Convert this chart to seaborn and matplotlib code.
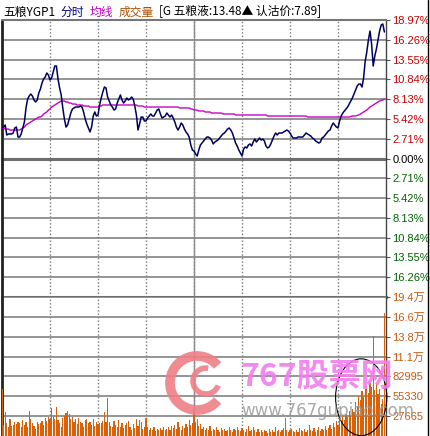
import numpy as np
import pandas as pd
import seaborn as sns
import matplotlib.pyplot as plt
from matplotlib.patches import Ellipse, Arc

# intraday data, one value per trading minute (240 minutes)
minutes = list(range(240))

price_pct = [
    4.18, 4.31, 4.59, 3.22, 3.36, 3.36, 3.36, 3.49, 4.18, 4.31,
    2.94, 2.94, 3.36, 4.18, 5.00, 6.92, 8.15, 8.56, 8.83, 8.56,
    8.01, 7.74, 8.01, 8.97, 9.52, 10.34, 10.89, 11.16, 11.71, 11.44,
    10.75, 11.03, 11.85, 12.67, 12.67, 10.89, 9.66, 8.70, 6.92, 5.41,
    4.31, 4.59, 5.41, 6.23, 6.78, 6.92, 7.05, 7.05, 7.05, 7.19,
    7.05, 6.37, 5.41, 4.73, 4.18, 3.63, 4.31, 5.82, 6.37, 5.82,
    5.96, 7.33, 8.29, 9.11, 9.79, 9.66, 8.42, 7.88, 7.33, 7.05,
    6.64, 6.78, 7.60, 8.15, 8.70, 8.01, 7.60, 7.88, 8.29, 8.01,
    8.15, 8.42, 8.15, 7.19, 5.96, 3.90, 4.73, 5.68, 5.68, 5.14,
    5.14, 5.55, 5.82, 6.10, 5.82, 5.82, 6.23, 6.64, 6.78, 6.10,
    5.55, 5.68, 5.82, 6.23, 5.96, 5.68, 5.96, 5.55, 5.00, 4.31,
    3.90, 4.31, 4.86, 4.59, 4.04, 3.63, 3.36, 2.94, 1.85, 1.16,
    1.03, 0.62, 0.34, 1.16, 1.85, 2.12, 2.40, 2.67, 2.94, 2.94,
    2.81, 2.53, 1.99, 2.26, 2.40, 2.53, 2.81, 3.08, 3.36, 3.49,
    3.77, 4.04, 4.18, 3.90, 3.49, 2.81, 2.12, 1.71, 1.16, 0.75,
    0.34, 1.30, 1.58, 1.44, 1.85, 1.99, 1.71, 2.26, 2.67, 2.26,
    2.53, 2.81, 2.53, 2.67, 2.40, 1.71, 1.44, 1.58, 1.99, 2.53,
    3.08, 3.49, 3.22, 3.49, 3.49, 3.49, 3.63, 3.77, 3.90, 3.77,
    3.49, 3.08, 2.81, 2.81, 2.81, 2.94, 2.94, 2.94, 2.94, 3.22,
    3.49, 3.36, 3.22, 3.08, 2.81, 2.67, 2.40, 2.26, 2.12, 2.26,
    2.81, 2.94, 3.22, 3.49, 3.77, 3.90, 4.45, 4.86, 4.59, 4.31,
    4.18, 5.14, 5.82, 6.23, 6.51, 6.78, 7.05, 7.46, 7.88, 8.29,
    8.83, 9.38, 9.93, 10.20, 10.20, 9.79, 11.03, 13.35, 14.59, 16.23,
    17.46, 15.68, 12.67, 14.04, 15.00, 16.23, 17.46, 18.29, 18.42, 17.33,
]

avg_pct = [
    4.18, 4.18, 4.04, 4.04, 4.04, 3.90, 3.90, 3.90, 3.90, 3.90,
    3.90, 3.90, 4.04, 4.18, 4.31, 4.59, 4.73, 4.86, 5.00, 5.14,
    5.27, 5.41, 5.55, 5.68, 5.68, 5.82, 6.10, 6.23, 6.37, 6.64,
    6.78, 7.05, 7.19, 7.33, 7.46, 7.60, 7.74, 7.88, 7.88, 7.88,
    7.74, 7.74, 7.60, 7.60, 7.46, 7.46, 7.46, 7.33, 7.33, 7.33,
    7.33, 7.19, 7.19, 7.19, 7.19, 7.05, 7.05, 7.05, 7.05, 7.05,
    7.05, 7.19, 7.19, 7.33, 7.33, 7.33, 7.33, 7.33, 7.33, 7.33,
    7.33, 7.33, 7.33, 7.33, 7.33, 7.33, 7.33, 7.33, 7.33, 7.33,
    7.33, 7.33, 7.33, 7.33, 7.33, 7.19, 7.19, 7.19, 7.19, 7.05,
    7.05, 7.05, 7.05, 7.05, 7.05, 7.05, 7.05, 7.05, 7.05, 7.05,
    7.05, 7.05, 7.05, 7.05, 7.05, 7.05, 7.05, 7.05, 7.05, 7.05,
    7.05, 6.92, 6.92, 6.92, 6.92, 6.92, 6.92, 6.92, 6.78, 6.78,
    6.64, 6.64, 6.64, 6.51, 6.51, 6.51, 6.51, 6.37, 6.37, 6.37,
    6.37, 6.23, 6.23, 6.23, 6.23, 6.23, 6.23, 6.23, 6.10, 6.10,
    6.10, 6.10, 6.10, 6.10, 6.10, 6.10, 5.96, 5.96, 5.96, 5.96,
    5.96, 5.96, 5.96, 5.96, 5.96, 5.96, 5.96, 5.96, 5.96, 5.96,
    5.96, 5.96, 5.96, 5.96, 5.96, 5.96, 5.82, 5.82, 5.82, 5.82,
    5.82, 5.82, 5.82, 5.82, 5.82, 5.82, 5.82, 5.82, 5.82, 5.82,
    5.82, 5.82, 5.82, 5.82, 5.82, 5.82, 5.82, 5.82, 5.82, 5.82,
    5.82, 5.68, 5.68, 5.68, 5.68, 5.68, 5.68, 5.68, 5.68, 5.68,
    5.68, 5.68, 5.68, 5.68, 5.68, 5.68, 5.68, 5.68, 5.68, 5.68,
    5.68, 5.68, 5.68, 5.68, 5.68, 5.68, 5.68, 5.68, 5.75, 5.82,
    5.82, 5.82, 5.89, 5.96, 6.10, 6.23, 6.37, 6.51, 6.64, 6.85,
    7.05, 7.19, 7.33, 7.46, 7.60, 7.74, 7.88, 7.95, 8.01, 8.15,
]

volume = [
    65500, 15000, 34000, 18000, 12000, 24000, 14000, 16000, 20000, 17000,
    19000, 18000, 13000, 22000, 15000, 20000, 12000, 35000, 24000, 18000,
    14000, 10000, 20000, 17000, 18000, 21000, 16000, 25000, 21000, 26000,
    24000, 39000, 26000, 23000, 41000, 22000, 18000, 12000, 25000, 28000,
    32000, 35000, 30000, 24000, 27000, 19000, 23000, 17000, 25000, 20000,
    18000, 13000, 22000, 24000, 18000, 19000, 16000, 23000, 14000, 20000,
    17000, 18000, 18000, 21000, 34000, 20000, 53000, 19000, 14000, 12000,
    21000, 16000, 13000, 22000, 12000, 18000, 11000, 16000, 18000, 21000,
    12000, 9000, 17000, 11000, 23000, 14000, 22000, 19000, 10000, 13000,
    25000, 12000, 8000, 11000, 9000, 12000, 7000, 10000, 8000, 11000,
    9000, 13000, 8000, 10000, 12000, 9000, 14000, 11000, 16000, 10000,
    20000, 12000, 9000, 14000, 11000, 17000, 13000, 22000, 15000, 18000,
    37000, 20000, 23000, 14000, 17000, 10000, 13000, 8000, 11000, 9000,
    14000, 7000, 10000, 8000, 12000, 9000, 6000, 11000, 8000, 10000,
    7000, 9000, 13000, 8000, 6000, 10000, 8000, 12000, 9000, 7000,
    11000, 8000, 6000, 10000, 14000, 7000, 9000, 12000, 8000, 6000,
    10000, 5000, 8000, 6000, 9000, 7000, 4000, 10000, 6000, 8000,
    5000, 13000, 7000, 9000, 6000, 8000, 11000, 25000, 9000, 6000,
    8000, 10000, 7000, 5000, 9000, 6000, 11000, 8000, 7000, 10000,
    6000, 9000, 15000, 8000, 7000, 11000, 6000, 9000, 12000, 7000,
    10000, 8000, 14000, 9000, 11000, 16000, 10000, 18000, 13000, 21000,
    15000, 24000, 19000, 28000, 22000, 31000, 26000, 35000, 29000, 38000,
    33000, 48000, 42000, 56000, 50000, 62000, 55000, 66000, 70000, 60000,
    74000, 68000, 139000, 64000, 72000, 58000, 65000, 45000, 52000, 172000,
]

pct_ticks = [18.97, 16.26, 13.55, 10.84, 8.13, 5.42, 2.71, 0.0,
             -2.71, -5.42, -8.13, -10.84, -13.55, -16.26]
pct_labels = ["18.97%", "16.26%", "13.55%", "10.84%", "8.13%", "5.42%", "2.71%",
              "0.00%", "2.71%", "5.42%", "8.13%", "10.84%", "13.55%", "16.26%"]
vol_ticks = [27665, 55330, 82995, 110660, 138325, 165990, 193655]
vol_labels = ["27665", "55330", "82995", "11.1万", "13.8万", "16.6万", "19.4万"]

RED = "#c80000"
GREEN = "#006400"
ORANGE = "#c85a14"
GRID = "#8c8c8c"

sns.set_style("white")
plt.rcParams['font.family'] = ['Liberation Sans', 'Noto Sans CJK SC', 'DejaVu Sans']

df = pd.DataFrame({"minute": minutes, "price": price_pct, "avg": avg_pct, "vol": volume})

fig = plt.figure(figsize=(4.30, 4.36), dpi=100)
ax = fig.add_axes([2 / 430, 139 / 436, 384 / 430, 277 / 436])
axv = fig.add_axes([2 / 430, 0, 384 / 430, 139 / 436])

# price panel
sns.lineplot(data=df, x="minute", y="avg", ax=ax, color="#cc00cc", lw=1.0, zorder=3)
sns.lineplot(data=df, x="minute", y="price", ax=ax, color="#000060", lw=1.1, zorder=4)
ax.set_xlim(0, 240)
ax.set_ylim(-18.97, 18.97)

# volume panel
sns.barplot(data=df, x="minute", y="vol", ax=axv, native_scale=True, width=0.8,
            color="#d8620c", saturation=1, linewidth=0, zorder=3)
axv.set_xlim(0, 240)
axv.set_ylim(0, 193655)

for a in (ax, axv):
    a.set_xlabel("")
    a.set_ylabel("")
    a.set_xticks([30, 60, 90, 120, 150, 180, 210])
    a.tick_params(axis="x", length=0, labelbottom=False)
    a.grid(axis="x", color="#7a7a7a", lw=1.0, ls=(0, (1, 1.5)))
    a.grid(axis="y", color=GRID, lw=1.3, ls="-")
    a.axvline(120, color="#8a8a8a", lw=1.0, zorder=2)
    a.set_axisbelow(True)
    a.yaxis.tick_right()
    a.tick_params(axis="y", length=3, width=0.8, pad=1.5, labelsize=8,
                  color="#555555", direction="out")
    a.spines["left"].set_color("#222222")
    a.spines["left"].set_linewidth(2.0)
    a.spines["right"].set_color("#444444")
    a.spines["right"].set_linewidth(1.0)
    a.spines["top"].set_color("#777777")
    a.spines["top"].set_linewidth(1.5)
    a.spines["bottom"].set_color("#6e6e6e")
    a.spines["bottom"].set_linewidth(2.2)

ax.axhline(0, color="#6e6e6e", lw=2.2, zorder=2)
ax.set_yticks(pct_ticks)
ax.set_yticklabels(pct_labels)
for lab, val in zip(ax.get_yticklabels(), pct_ticks):
    lab.set_color(RED if val > 0 else (GREEN if val < 0 else "black"))

axv.set_yticks(vol_ticks)
axv.set_yticklabels(vol_labels)
for lab in axv.get_yticklabels():
    lab.set_color(ORANGE)
axv.spines["top"].set_visible(False)
axv.spines["bottom"].set_visible(False)

# header line
cjk = ['Noto Sans CJK SC', 'DejaVu Sans']
head_y = 1 - 15.5 / 436
fig.text(3 / 430, head_y, "五粮YGP1", family=cjk, fontsize=8.5, color="black", va="baseline")
fig.text(60 / 430, head_y, "分时", family=cjk, fontsize=8.5, color="#000080", va="baseline")
fig.text(90 / 430, head_y, "均线", family=cjk, fontsize=8.5, color="#c000c0", va="baseline")
fig.text(119 / 430, head_y, "成交量", family=cjk, fontsize=8.5, color="#b05000", va="baseline")
fig.text(159 / 430, head_y, "[G 五粮液:13.48▲ 认沽价:7.89]", family=cjk, fontsize=8.5,
         color="black", va="baseline")

# watermark
fig.add_artist(Arc((197 / 430, 1 - 383 / 436), 54 / 430, 54 / 436, theta1=40, theta2=320,
                   transform=fig.transFigure, color="#f07f86", lw=7, alpha=0.9))
fig.add_artist(Arc((206 / 430, 1 - 381 / 436), 26 / 430, 26 / 436, theta1=80, theta2=340,
                   transform=fig.transFigure, color="#f07f86", lw=4, alpha=0.9))
fig.text(240 / 430, 1 - 377 / 436, "767股票网", family=['Noto Sans CJK SC', 'DejaVu Sans'],
         fontsize=23, fontweight="bold", color="#f27cf0", alpha=0.9, va="center")
fig.text(241 / 430, 1 - 411 / 436, "www.767gupiao.com", family="DejaVu Sans",
         fontsize=12, color="#9a9a9a", alpha=0.85, va="center")

# hand drawn ellipse around the late volume surge
axv.add_patch(Ellipse((224.5, 54000), 32, 107000, fill=False, edgecolor="black",
                      lw=0.8, zorder=5, clip_on=False))

# outer frame on the right
fig.add_artist(plt.Line2D([428 / 430, 428 / 430], [0, 1], transform=fig.transFigure,
                          color="black", lw=1.0))

fig.savefig("out.png", dpi=100)
